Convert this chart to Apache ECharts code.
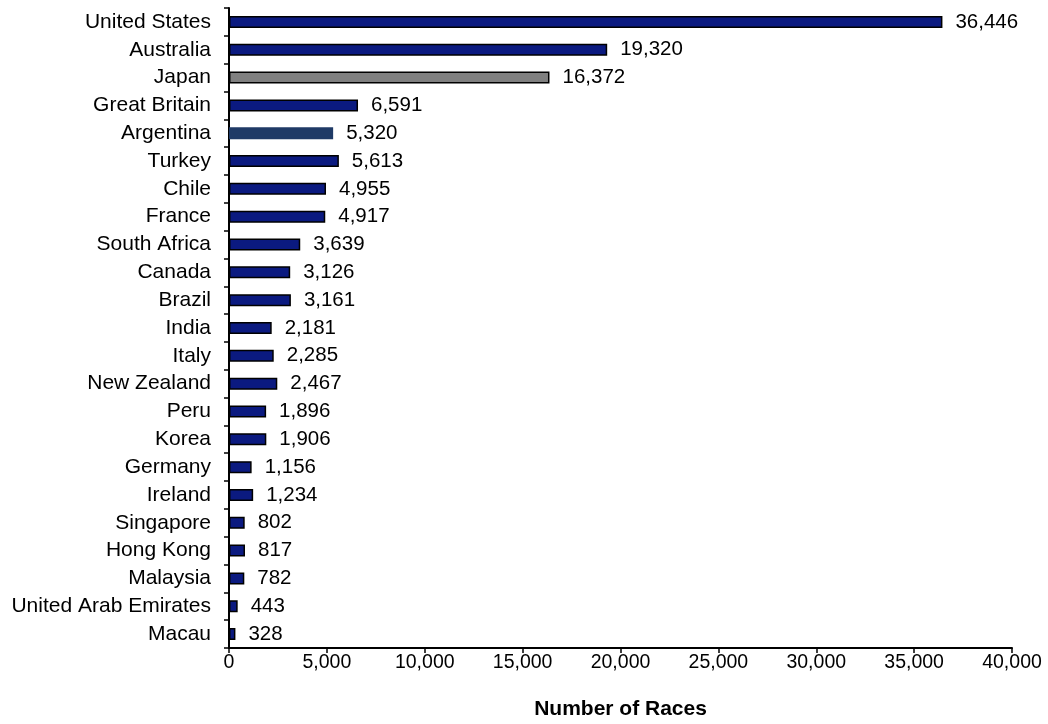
<!DOCTYPE html>
<html>
<head>
<meta charset="utf-8">
<script src="https://cdn.jsdelivr.net/npm/echarts@6/dist/echarts.min.js"></script>
<style>
  html, body { margin: 0; padding: 0; background: #fff; }
  #chart { width: 1048px; height: 724px; }
</style>
</head>
<body>
<div id="chart"></div>
<script>
// 数据
var countries = ['United States', 'Australia', 'Japan', 'Great Britain', 'Argentina', 'Turkey', 'Chile', 'France',
    'South Africa', 'Canada', 'Brazil', 'India', 'Italy', 'New Zealand', 'Peru', 'Korea', 'Germany', 'Ireland',
    'Singapore', 'Hong Kong', 'Malaysia', 'United Arab Emirates', 'Macau'];
var races = [36446, 19320, 16372, 6591, 5320, 5613, 4955, 4917, 3639, 3126, 3161, 2181, 2285, 2467, 1896, 1906,
    1156, 1234, 802, 817, 782, 443, 328];
var xTicks = [0, 5000, 10000, 15000, 20000, 25000, 30000, 35000, 40000];

(function () {
    var myChart = echarts.init(document.getElementById('chart'));
    var fmt = function (v) { return Number(v).toLocaleString('en-US'); };

    // 个别国家特殊颜色
    var barData = races.map(function (v, i) {
        var name = countries[i];
        if (name === 'Japan') {
            return { value: v, itemStyle: { color: '#808080', borderColor: '#000', borderWidth: 1.5 } };
        }
        if (name === 'Argentina') {
            return { value: v, itemStyle: { color: '#1f3a66', borderWidth: 0 } };
        }
        return v;
    });

    var option = {
        animation: false,
        textStyle: { fontFamily: 'Liberation Sans, Arial, sans-serif' },
        grid: { left: 229, right: 36, top: 8, bottom: 76, containLabel: false, outerBoundsMode: 'none' },
        xAxis: {
            type: 'value',
            min: xTicks[0],
            max: xTicks[xTicks.length - 1],
            interval: 5000,
            splitLine: { show: false },
            axisLine: { show: true, lineStyle: { color: '#000', width: 2 } },
            axisTick: { show: true, length: 5, lineStyle: { color: '#000', width: 1.5 } },
            axisLabel: { color: '#000', fontSize: 19.5, margin: 5, formatter: fmt },
            name: 'Number of Races',
            nameLocation: 'middle',
            nameGap: 51,
            nameTextStyle: { color: '#000', fontSize: 21, fontWeight: 'bold' }
        },
        yAxis: {
            type: 'category',
            inverse: true,
            data: countries,
            axisLine: { show: true, lineStyle: { color: '#000', width: 2 } },
            axisTick: { show: true, length: 5, lineStyle: { color: '#000', width: 1.5 } },
            axisLabel: { color: '#000', fontSize: 21, margin: 18, interval: 0 }
        },
        series: [{
            type: 'bar',
            data: barData,
            barWidth: 12,
            itemStyle: { color: '#0b1a80', borderColor: '#000', borderWidth: 1.5 },
            label: {
                show: true,
                position: 'right',
                distance: 13,
                color: '#000',
                fontSize: 20.5,
                formatter: function (p) { return fmt(p.value); }
            }
        }]
    };
    myChart.setOption(option);
})();
</script>
</body>
</html>
